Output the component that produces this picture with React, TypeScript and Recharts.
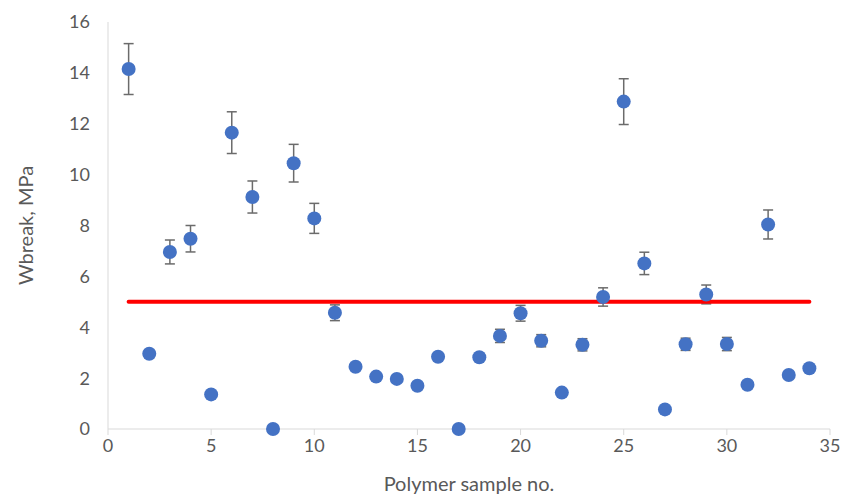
import {
  ScatterChart,
  Scatter,
  XAxis,
  YAxis,
  ErrorBar,
} from "recharts";

const sampleNo = [
  1, 2, 3, 4, 5, 6, 7, 8, 9, 10, 11, 12, 13, 14, 15, 16, 17,
  18, 19, 20, 21, 22, 23, 24, 25, 26, 27, 28, 29, 30, 31, 32, 33, 34,
];
const wbreak = [
  14.15, 2.96, 6.96, 7.48, 1.36, 11.65, 9.12, 0, 10.45, 8.28, 4.57, 2.45, 2.06, 1.97, 1.7, 2.84, 0,
  2.82, 3.66, 4.55, 3.47, 1.43, 3.31, 5.19, 12.87, 6.51, 0.77, 3.33, 5.29, 3.34, 1.74, 8.04, 2.12, 2.39,
];
const wbreakErr = [
  1.0, 0.15, 0.47, 0.52, 0, 0.82, 0.63, 0, 0.74, 0.59, 0.31, 0.12, 0, 0, 0, 0.12, 0,
  0.12, 0.26, 0.31, 0.24, 0, 0.24, 0.36, 0.9, 0.44, 0, 0.24, 0.37, 0.26, 0, 0.57, 0.1, 0.1,
];
const thresholdX = [1, 34];
const thresholdY = 5;
const xTicks = [0, 5, 10, 15, 20, 25, 30, 35];
const yTicks = [0, 2, 4, 6, 8, 10, 12, 14, 16];

const points = sampleNo.map((x, i) => ({ x, y: wbreak[i], err: wbreakErr[i] }));
const threshold = thresholdX.map((x) => ({ x, y: thresholdY }));

const FONT = "Lato, 'Open Sans', sans-serif";
const TEXT = "#595959";

export default function App() {
  return (
    <div style={{ position: "absolute", left: 0, top: 0, background: "#fff" }}>
      <ScatterChart
        width={844}
        height={496}
        margin={{ top: 22, right: 14, bottom: 0, left: 0 }}
      >
        <XAxis
          type="number"
          dataKey="x"
          domain={[0, 35]}
          ticks={xTicks}
          height={67}
          stroke="#d9d9d9"
          tickSize={6}
          tick={{ fontSize: 18, fill: TEXT, fontFamily: FONT }}
          tickMargin={4}
          label={{
            value: "Polymer sample no.",
            position: "insideBottom",
            offset: 5,
            style: { fontSize: 20, fill: TEXT, fontFamily: FONT },
          }}
        />
        <YAxis
          type="number"
          dataKey="y"
          domain={[0, 16]}
          ticks={yTicks}
          width={108}
          stroke="#d9d9d9"
          tickLine={false}
          tick={{ fontSize: 18, fill: TEXT, fontFamily: FONT }}
          tickMargin={12}
          label={{
            value: "Wbreak, MPa",
            angle: -90,
            position: "insideLeft",
            offset: 26,
            style: { fontSize: 20, fill: TEXT, fontFamily: FONT, textAnchor: "middle" },
          }}
        />
        <Scatter
          data={threshold}
          line={{ stroke: "#ff0000", strokeWidth: 4, strokeLinecap: "round" }}
          shape={() => null}
          isAnimationActive={false}
        />
        <Scatter
          data={points}
          fill="#4472c4"
          isAnimationActive={false}
          shape={(p: any) => <circle cx={p.cx} cy={p.cy} r={7} fill="#4472c4" />}
        >
          <ErrorBar
            dataKey="err"
            direction="y"
            width={5}
            stroke="#6b6b6b"
            strokeWidth={1.5}
            isAnimationActive={false}
          />
        </Scatter>
      </ScatterChart>
    </div>
  );
}
